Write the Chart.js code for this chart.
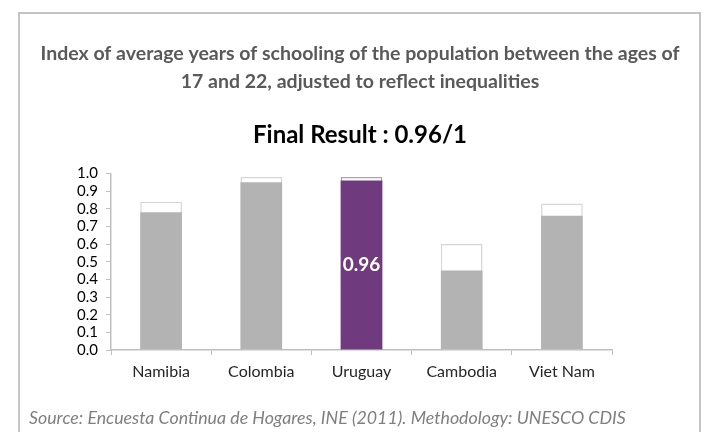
<!DOCTYPE html>
<html>
<head>
<meta charset="utf-8">
<script src="https://cdn.jsdelivr.net/npm/chart.js@4.4.1/dist/chart.umd.min.js"></script>
<style>
  html, body { margin: 0; padding: 0; background: #fff; }
  #wrap { position: relative; width: 706px; height: 432px; overflow: hidden; }
  #frame { position: absolute; left: 18px; top: 12px; width: 683px; height: 440px; border: 2px solid #c4c4c4; box-sizing: border-box; }
  #cv { position: absolute; left: 0; top: 0; }
  #src { position: absolute; left: 29px; top: 406px; font-family: Lato, sans-serif; font-style: italic; font-size: 17.8px; color: #7f7f7f; white-space: nowrap; }
</style>
</head>
<body>
<div id="wrap">
  <div id="frame"></div>
  <canvas id="cv" width="706" height="432"></canvas>
  <div id="src">Source: Encuesta Continua de Hogares, INE (2011). Methodology: UNESCO CDIS</div>
</div>
<script>
// Index values: adjusted (filled) and unadjusted (outlined) per country
const countries  = ['Namibia', 'Colombia', 'Uruguay', 'Cambodia', 'Viet Nam'];
const adjusted   = [0.78, 0.95, 0.96, 0.45, 0.76];
const unadjusted = [0.84, 0.98, 0.98, 0.60, 0.83];
const highlight  = 'Uruguay';
const yTicks     = [0, 0.1, 0.2, 0.3, 0.4, 0.5, 0.6, 0.7, 0.8, 0.9, 1.0];

const PURPLE = '#6f3a7e', GREY = '#b3b3b3', AXIS = '#bfbfbf';
const FONT = 'Lato, "Open Sans", sans-serif';

// white label in the middle of the highlighted bar
const midLabel = {
  id: 'midLabel',
  afterDatasetsDraw(chart) {
    const i = countries.indexOf(highlight);
    const bar = chart.getDatasetMeta(0).data[i];
    if (!bar) return;
    const { ctx } = chart;
    ctx.save();
    ctx.fillStyle = '#fff';
    ctx.font = 'bold 19px ' + FONT;
    ctx.textAlign = 'center';
    ctx.textBaseline = 'middle';
    ctx.fillText(adjusted[i].toFixed(2), bar.x, (bar.y + bar.base) / 2);
    ctx.restore();
  }
};

new Chart(document.getElementById('cv'), {
  type: 'bar',
  data: {
    labels: countries,
    datasets: [
      {
        label: 'Adjusted',
        data: adjusted,
        backgroundColor: countries.map(c => c === highlight ? PURPLE : GREY),
        borderWidth: 0,
        grouped: false,
        categoryPercentage: 1, barPercentage: 0.416
      },
      {
        label: 'Unadjusted',
        data: unadjusted,
        backgroundColor: '#ffffff',
        borderColor: countries.map(c => c === highlight ? '#b69bbf' : '#d6d6d6'),
        borderWidth: 1.5,
        borderSkipped: 'bottom',
        grouped: false,
        categoryPercentage: 1, barPercentage: 0.416
      }
    ]
  },
  options: {
    responsive: false, animation: false,
    layout: { padding: { left: 14, right: 0, bottom: 42, top: 0 } },
    plugins: {
      legend: { display: false },
      tooltip: { enabled: false },
      title: {
        display: true,
        text: ['Index of average years of schooling of the population between the ages of', '17 and 22, adjusted to reflect inequalities'],
        color: '#595959',
        font: { family: FONT, size: 19.5, weight: 'bold', lineHeight: 1.436 },
        padding: { top: 40, bottom: 12 }
      },
      subtitle: {
        display: true,
        text: 'Final Result : 0.96/1',
        color: '#000',
        font: { family: FONT, size: 24, weight: 'bold', lineHeight: 1.2 },
        padding: { top: 12.6, bottom: 24 }
      }
    },
    scales: {
      x: {
        grid: { drawOnChartArea: false, color: AXIS, tickLength: 5, offset: true },
        border: { color: AXIS, width: 1.5 },
        ticks: { color: '#262626', font: { family: FONT, size: 16 }, padding: 7 },
        afterFit: s => { s.height = 40; }
      },
      y: {
        min: 0, max: 1,
        afterBuildTicks: s => { s.ticks = yTicks.map(v => ({ value: v })); },
        grid: { drawOnChartArea: false, color: AXIS, tickLength: 5 },
        border: { color: AXIS, width: 1.5 },
        ticks: { autoSkip: false, color: '#000', font: { family: FONT, size: 15 }, padding: 8, callback: v => v.toFixed(1) },
        afterFit: s => { s.width = 97; }
      },
      // empty right-hand strip so the plot ends short of the frame
      pad: {
        position: 'right', min: 0, max: 1,
        grid: { display: false }, border: { display: false }, ticks: { display: false },
        afterFit: s => { s.width = 94; }
      }
    }
  },
  plugins: [midLabel]
});
</script>
</body>
</html>
